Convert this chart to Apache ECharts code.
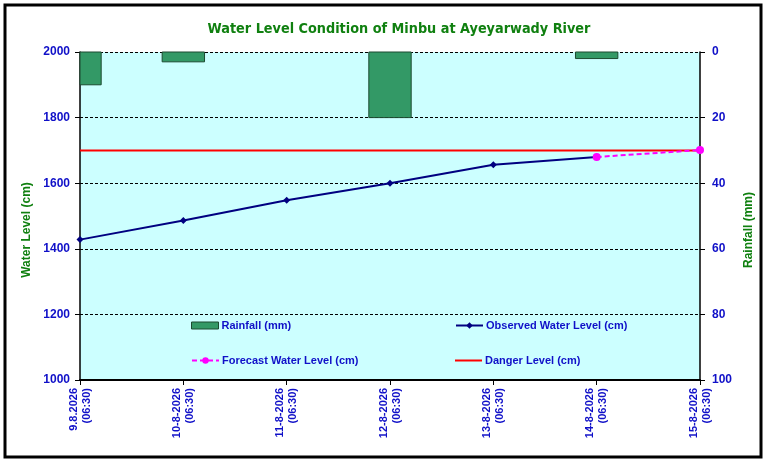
<!DOCTYPE html>
<html>
<head>
<meta charset="utf-8">
<script src="https://cdn.jsdelivr.net/npm/echarts@6/dist/echarts.min.js"></script>
<style>
  html, body { margin: 0; padding: 0; background: #fff; }
  #container { width: 766px; height: 463px; }
</style>
</head>
<body>
<div id="container"></div>
<script>
var dates = ['9.8.2026\n(06:30)', '10-8-2026\n(06:30)', '11-8-2026\n(06:30)', '12-8-2026\n(06:30)',
    '13-8-2026\n(06:30)', '14-8-2026\n(06:30)', '15-8-2026\n(06:30)'];
var rainfall = [10, 3, 0, 20, 0, 2, 0];
var observed = [1428, 1486, 1548, 1600, 1656, 1680, null];
var forecast = [null, null, null, null, null, 1680, 1701];
var danger = [1700, 1700, 1700, 1700, 1700, 1700, 1700];

var blue = '#1010c8';
var green = '#108010';
var font = 'Liberation Sans';

var dom = document.getElementById("container");
var myChart = echarts.init(dom);

function legendAt(item, left, top, h) {
    return {
        data: [item],
        left: left,
        top: top,
        padding: 0,
        itemGap: 0,
        itemWidth: 27,
        itemHeight: h || 8,
        textStyle: { color: blue, fontWeight: 'bold', fontSize: 11, fontFamily: font, padding: [0, 0, 0, -2] },
        selectedMode: false
    };
}

// bars drawn by hand so the half bar at the left edge is clipped to the plot
function renderRain(params, api) {
    var v = api.value(1);
    if (!v) return;
    var top = api.coord([api.value(0), 0]);
    var bottom = api.coord([api.value(0), v]);
    var w = api.size([1, 0])[0] * 0.41;
    var cs = params.coordSys;
    var rect = echarts.graphic.clipRectByRect(
        { x: top[0] - w / 2, y: top[1], width: w, height: bottom[1] - top[1] },
        { x: cs.x, y: cs.y, width: cs.width, height: cs.height }
    );
    return rect && {
        type: 'rect',
        shape: rect,
        style: { fill: '#339966', stroke: '#1c4a30', lineWidth: 1 }
    };
}

var option = {
    backgroundColor: '#fff',
    animation: false,
    title: {
        text: 'Water Level Condition of Minbu at Ayeyarwady River',
        left: 394,
        textAlign: 'center',
        top: 17,
        textStyle: { color: green, fontSize: 14.3, fontWeight: 'bold', fontFamily: 'DejaVu Sans Condensed' }
    },
    graphic: [{
        type: 'rect',
        shape: { x: 5, y: 5, width: 756, height: 452 },
        style: { fill: 'none', stroke: '#000', lineWidth: 3 },
        z: 100
    }],
    legend: [
        legendAt({ name: 'Rainfall (mm)', icon: 'rect',
            itemStyle: { color: '#339966', borderColor: '#1c4a30', borderWidth: 1 } }, 191, 320, 7),
        legendAt({ name: 'Observed Water Level (cm)' }, 455, 320),
        legendAt({ name: 'Forecast Water Level (cm)' }, 191, 355),
        legendAt({ name: 'Danger Level (cm)', icon: 'path://M0,0H27V2H0Z',
            itemStyle: { color: '#ff0000' } }, 455, 355)
    ],
    grid: {
        left: 80, right: 66, top: 52, bottom: 83,
        show: true,
        backgroundColor: '#ccffff',
        borderWidth: 0
    },
    xAxis: {
        type: 'category',
        data: dates,
        boundaryGap: false,
        z: 5,
        axisLine: { onZero: false, lineStyle: { color: '#000', width: 2 } },
        axisTick: { show: true, length: 5, lineStyle: { color: '#000' } },
        splitLine: { show: false },
        minorTick: { show: false },
        axisLabel: {
            rotate: 90,
            interval: 0,
            margin: 8,
            color: blue,
            fontWeight: 'bold',
            fontSize: 11,
            lineHeight: 13,
            fontFamily: font
        }
    },
    yAxis: [{
        type: 'value',
        min: 1000,
        max: 2000,
        interval: 200,
        name: 'Water Level (cm)',
        nameLocation: 'middle',
        nameRotate: 90,
        nameGap: 43,
        nameTextStyle: { color: green, fontWeight: 'bold', fontSize: 12, fontFamily: font, padding: [0, 28, 0, 0] },
        axisLine: { show: true, lineStyle: { color: '#000', width: 1.5 } },
        axisTick: { show: true, length: 5, lineStyle: { color: '#000' } },
        axisLabel: { color: blue, fontWeight: 'bold', fontSize: 12, margin: 10, fontFamily: font,
            formatter: function (v) { return String(v); } },
        splitLine: { lineStyle: { color: '#000', type: [3, 2], width: 1 } }
    }, {
        type: 'value',
        min: 0,
        max: 100,
        interval: 20,
        inverse: true,
        position: 'right',
        name: 'Rainfall (mm)',
        nameLocation: 'middle',
        nameRotate: 90,
        nameGap: 42,
        nameTextStyle: { color: green, fontWeight: 'bold', fontSize: 12, fontFamily: font, padding: [0, 28, 0, 0] },
        axisLine: { show: true, lineStyle: { color: '#000', width: 1.5 } },
        axisTick: { show: true, length: 5, lineStyle: { color: '#000' } },
        axisLabel: { color: blue, fontWeight: 'bold', fontSize: 12, margin: 12, fontFamily: font },
        splitLine: { show: false }
    }],
    series: [{
        name: 'Rainfall (mm)',
        type: 'custom',
        yAxisIndex: 1,
        renderItem: renderRain,
        encode: { x: 0, y: 1 },
        data: rainfall.map(function (v, i) { return [i, v]; }),
        itemStyle: { color: '#339966' }
    }, {
        name: 'Danger Level (cm)',
        type: 'line',
        data: danger,
        symbol: 'none',
        lineStyle: { color: '#ff0000', width: 2 },
        itemStyle: { color: '#ff0000' }
    }, {
        name: 'Observed Water Level (cm)',
        type: 'line',
        data: observed,
        symbol: 'diamond',
        symbolSize: 7,
        lineStyle: { color: '#000080', width: 2 },
        itemStyle: { color: '#000080' }
    }, {
        name: 'Forecast Water Level (cm)',
        type: 'line',
        data: forecast,
        symbol: 'circle',
        symbolSize: 8,
        lineStyle: { color: '#ff00ff', width: 2, type: [5, 3] },
        itemStyle: { color: '#ff00ff' }
    }]
};

if (option && typeof option === "object") {
    myChart.setOption(option, true);
}
</script>
</body>
</html>
